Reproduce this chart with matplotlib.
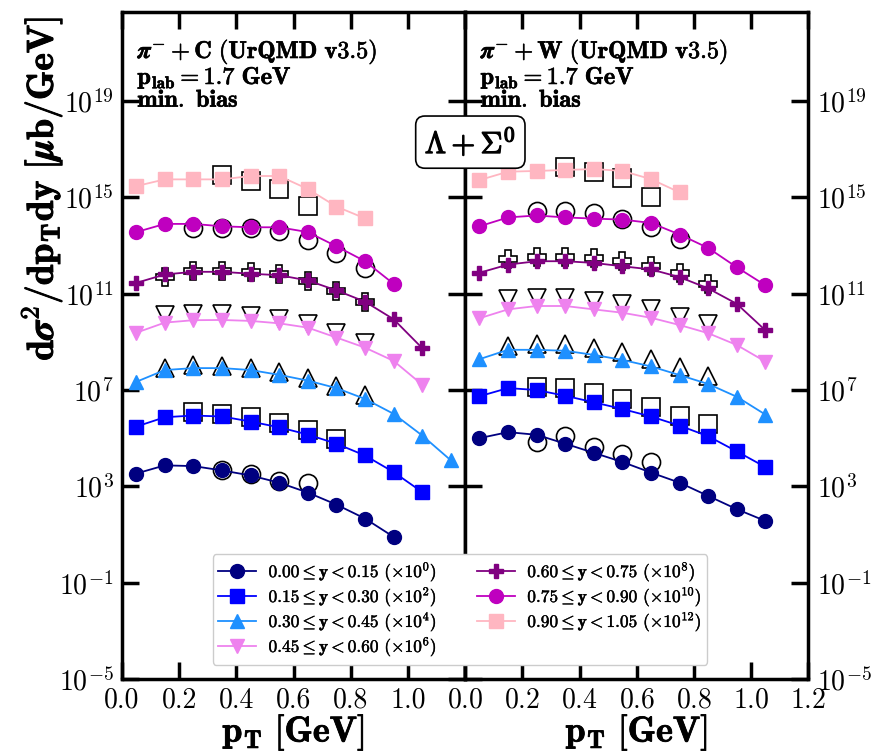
import matplotlib
matplotlib.use('Agg')
import matplotlib.pyplot as plt
import matplotlib.patheffects as pe
from matplotlib.ticker import FixedLocator, NullLocator

plt.rcParams['mathtext.fontset'] = 'cm'
plt.rcParams['font.family'] = 'serif'
plt.rcParams['font.serif'] = ['cmr10', 'DejaVu Serif']
plt.rcParams['axes.formatter.use_mathtext'] = True

# pT bin centres [GeV]
pt = [0.05, 0.15, 0.25, 0.35, 0.45, 0.55, 0.65, 0.75, 0.85, 0.95, 1.05, 1.15]

# rapidity bins, scale factors
y_bins = ['0.00', '0.15', '0.30', '0.45', '0.60', '0.75', '0.90', '1.05']
scales = [0, 2, 4, 6, 8, 10, 12]

# log10 of UrQMD model values, pi- + C
c_model = [
    [3.53, 3.87, 3.84, 3.66, 3.45, 3.15, 2.74, 2.24, 1.66, 0.90],
    [5.48, 5.87, 5.94, 5.90, 5.69, 5.45, 5.15, 4.77, 4.28, 3.59, 2.76],
    [7.34, 7.83, 7.91, 7.91, 7.83, 7.63, 7.39, 7.08, 6.63, 6.01, 5.11, 4.08],
    [9.38, 9.80, 9.90, 9.91, 9.87, 9.77, 9.59, 9.18, 8.76, 8.21, 7.22],
    [11.45, 11.80, 11.91, 11.91, 11.83, 11.77, 11.55, 11.14, 10.67, 9.94, 8.74],
    [13.56, 13.90, 13.90, 13.80, 13.76, 13.76, 13.56, 12.97, 12.35, 11.41],
    [15.47, 15.75, 15.75, 15.75, 15.89, 15.89, 15.35, 14.62, 14.13],
]
# log10 of measured points, pi- + C (first pT index, values)
c_data = [
    (3, [3.69, 3.52, 3.21, 3.15]),
    (2, [6.08, 6.01, 5.87, 5.62, 5.32, 4.97]),
    (1, [7.91, 8.05, 8.01, 7.91, 7.73, 7.50, 7.18, 6.81]),
    (1, [10.10, 10.14, 10.17, 10.07, 9.97, 9.73, 9.38, 8.97]),
    (1, [11.69, 11.94, 11.94, 11.91, 11.83, 11.52, 11.11, 10.67]),
    (2, [13.73, 13.73, 13.73, 13.59, 13.25, 12.70, 12.08]),
    (3, [15.93, 15.68, 15.35, 14.66]),
]

# log10 of UrQMD model values, pi- + W
w_model = [
    [5.00, 5.25, 5.14, 4.77, 4.39, 4.01, 3.57, 3.15, 2.60, 2.05, 1.56],
    [6.74, 7.08, 7.00, 6.76, 6.49, 6.21, 5.90, 5.52, 5.08, 4.45, 3.80],
    [8.28, 8.67, 8.67, 8.63, 8.46, 8.25, 7.98, 7.62, 7.25, 6.72, 5.98],
    [9.98, 10.35, 10.49, 10.49, 10.35, 10.21, 10.00, 9.70, 9.36, 8.87, 8.18],
    [11.87, 12.21, 12.35, 12.35, 12.28, 12.14, 12.01, 11.69, 11.22, 10.58, 9.48],
    [13.80, 14.17, 14.25, 14.17, 14.12, 14.08, 13.94, 13.46, 12.90, 12.10, 11.35],
    [15.72, 16.07, 16.10, 16.14, 16.18, 16.10, 15.76, 15.21],
]
w_data = [
    (2, [4.83, 5.11, 4.63, 4.35, 4.03]),
    (2, [7.11, 7.08, 6.87, 6.63, 6.28, 5.94, 5.57]),
    (1, [8.83, 8.93, 8.90, 8.74, 8.56, 8.28, 7.96, 7.59]),
    (1, [10.77, 10.84, 10.81, 10.70, 10.56, 10.35, 10.03, 9.73]),
    (1, [12.45, 12.54, 12.54, 12.47, 12.35, 12.14, 11.87, 11.41]),
    (2, [14.42, 14.42, 14.35, 14.12, 13.76, 13.29]),
    (3, [16.28, 16.07, 15.80, 15.00]),
]

colors = ['#000080', '#0000ff', '#1e90ff', '#ee82ee', '#800080', '#bf00bf', '#ffb6c1']
markers = ['o', 's', '^', 'v', 'P', 'o', 's']


def bold(lw):
    return [pe.withStroke(linewidth=lw, foreground='black')]


def draw_panel(ax, model, data, system):
    for i in range(len(model)):
        d0, dv = data[i]
        ax.plot(pt[d0:d0 + len(dv)], [10 ** v for v in dv], ls='none',
                marker=markers[i], ms=13, mfc='none', mec='black', mew=1.2, zorder=2)
    for i in range(len(model)):
        vals = model[i]
        label = (r'$\mathbf{%s \leq y < %s}$ $(\times 10^{%d})$'
                 % (y_bins[i], y_bins[i + 1], scales[i]))
        ax.plot(pt[:len(vals)], [10 ** v for v in vals], color=colors[i],
                marker=markers[i], ms=10, lw=1.3, label=label, zorder=3)
    ax.set_yscale('log')
    ax.set_xlim(0, 1.2)
    ax.set_ylim(1e-5, 5e22)
    ax.yaxis.set_major_locator(FixedLocator([10.0 ** e for e in range(-5, 20, 4)]))
    ax.yaxis.set_minor_locator(NullLocator())
    ax.set_xticks([0.0, 0.2, 0.4, 0.6, 0.8, 1.0, 1.2])
    ax.tick_params(which='major', direction='in', length=12, width=2.5,
                   top=True, right=True, labelsize=20, pad=6)
    for s in ax.spines.values():
        s.set_linewidth(2.5)
    ax.set_xlabel(r'$\mathbf{p_T\ [GeV]}$', fontsize=26, labelpad=0,
                  path_effects=bold(0.6))
    ax.text(0.045, 0.962, system + '\n' + r'$\mathbf{p_{lab} = 1.7\ GeV}$' + '\n'
            + r'$\mathbf{min.\ bias}$', transform=ax.transAxes, fontsize=17.5,
            va='top', ha='left', linespacing=0.92, path_effects=bold(0.45))


fig = plt.figure(figsize=(8.71, 7.56), dpi=100)
ax1 = fig.add_axes([0.140, 0.102, 0.394, 0.882])
ax2 = fig.add_axes([0.534, 0.102, 0.394, 0.882])

draw_panel(ax1, c_model, c_data, r'$\boldsymbol{\pi}^{-} + \mathbf{C\ (UrQMD\ v3.5)}$')
draw_panel(ax2, w_model, w_data, r'$\boldsymbol{\pi}^{-} + \mathbf{W\ (UrQMD\ v3.5)}$')

ax1.set_xticklabels(['0.0', '0.2', '0.4', '0.6', '0.8', '1.0', ''])
ax1.set_ylabel(r'$\mathbf{d}\boldsymbol{\sigma}^{\mathbf{2}}\mathbf{/dp_T dy\ [}'
               r'\boldsymbol{\mu}\mathbf{b/GeV]}$', fontsize=27,
               path_effects=bold(0.7))
ax1.yaxis.set_label_coords(-0.165, 0.735)
ax2.tick_params(labelleft=False, labelright=True)

handles, labels = ax1.get_legend_handles_labels()
leg = fig.legend(handles, labels, loc='lower left', bbox_to_anchor=(0.2445, 0.121),
                 ncol=2, fontsize=12.5, framealpha=1.0, fancybox=True,
                 handlelength=2.2, columnspacing=2.3, labelspacing=0.0,
                 borderpad=0.3, handletextpad=0.7, borderaxespad=0)
for t in leg.get_texts():
    t.set_path_effects(bold(0.3))

fig.text(0.540, 0.812, r'$\Lambda + \Sigma^0$', fontsize=22, ha='center', va='center',
         path_effects=bold(0.9),
         bbox=dict(boxstyle='round,pad=0.3', fc='white', ec='black', lw=1.2))

fig.savefig('out.png', dpi=100)
